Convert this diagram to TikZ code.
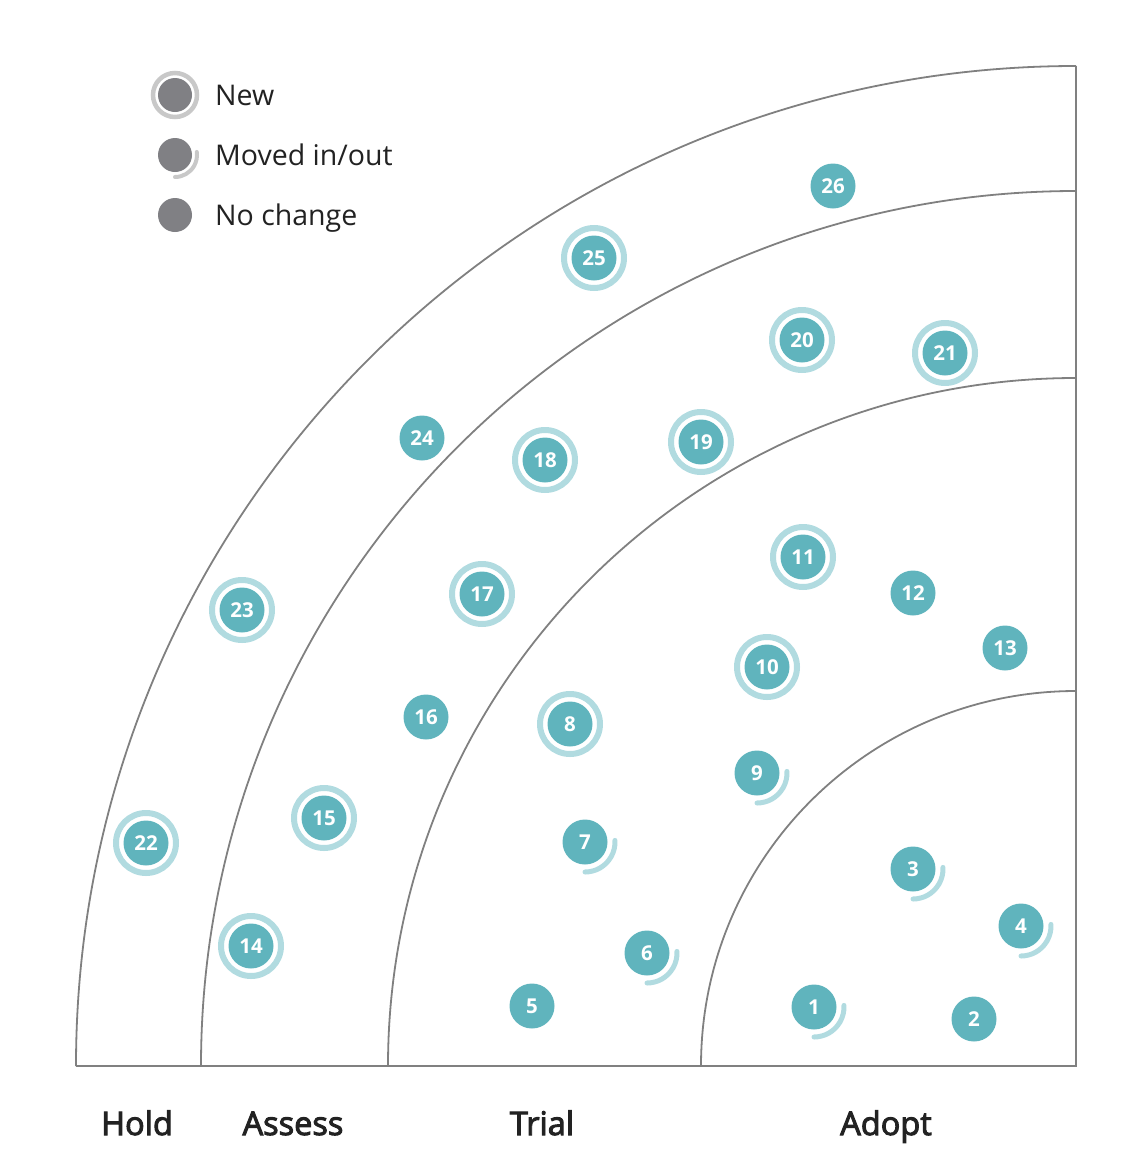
\documentclass[tikz,border=0pt]{standalone}
\usepackage{fontspec}
\setmainfont{Open Sans}
\newfontfamily\labfont[FakeBold=3]{Open Sans}
\definecolor{teal}{HTML}{60B4BD}
\definecolor{tealring}{HTML}{B1DBE0}
\definecolor{leggray}{HTML}{808084}
\definecolor{legring}{HTML}{C8C8C8}
\definecolor{linegray}{HTML}{808080}
\definecolor{txt}{HTML}{222222}
\tikzset{
  blip/.style={circle,fill=teal,draw=none,minimum size=45pt,inner sep=0pt,text=white,font=\bfseries\fontsize{20.5}{20.5}\selectfont},
  legdot/.style={circle,fill=leggray,draw=none,minimum size=34pt,inner sep=0pt},
  newring/.style={draw=tealring,line width=6pt},
  movedarc/.style={draw=tealring,line width=5pt,line cap=round},
  legnewring/.style={draw=legring,line width=4.5pt},
  legmoved/.style={draw=legring,line width=4pt,line cap=round},
  legtext/.style={anchor=base west,text=txt,inner sep=0pt,font=\fontsize{28.5}{28.5}\selectfont},
  ringlabel/.style={anchor=base,text=txt,inner sep=0pt,font=\labfont\fontsize{32.5}{32.5}\selectfont},
  frame/.style={draw=linegray,line width=1.8pt},
}
\begin{document}
\begin{tikzpicture}[x=1pt,y=-1pt]
\useasboundingbox (0,0) rectangle (1140,1170);
% frame and arcs
\coordinate (ctr) at (1076,1066);
\coordinate (top) at (1076,66);
\coordinate (left) at (76,1066);
\draw[frame] (top) -- (ctr) -- (left);
\draw[frame] (left) arc[start angle=180,end angle=90,radius=1000pt];
\draw[frame] (201,1066) arc[start angle=180,end angle=90,radius=875pt];
\draw[frame] (388,1066) arc[start angle=180,end angle=90,radius=688pt];
\draw[frame] (701,1066) arc[start angle=180,end angle=90,radius=375pt];
% ring labels
\node[ringlabel] (hold) at (137,1135) {Hold};
\node[ringlabel] (assess) at (293,1135) {Assess};
\node[ringlabel] (trial) at (542,1135) {Trial};
\node[ringlabel] (adopt) at (886,1135) {Adopt};
% legend
\node[legdot] (l1) at (175,95) {};
\node[legdot] (l2) at (175,155) {};
\node[legdot] (l3) at (175,215) {};
\draw[legnewring] (l1.center) circle[radius=22pt];
\draw[legmoved] ([yshift=-22pt]l2.center) arc[start angle=-90,end angle=8,radius=22pt];
\node[legtext] (t1) at (215,105) {New};
\node[legtext] (t2) at (215,165) {Moved in/out};
\node[legtext] (t3) at (215,225) {No change};
% blips
\foreach \n/\x/\y in {1/814/1007,2/974/1019,3/913/869,4/1021/926,5/532/1006,6/647/953,7/585/842,8/570/724,9/757/773,10/767/667,11/803/557,12/913/593,13/1005/648,14/251/946,15/324/818,16/426/717,17/482/594,18/545/460,19/701/442,20/802/340,21/945/353,22/146/843,23/242/610,24/422/438,25/594/258,26/833/186}
  \node[blip] (b\n) at (\x,\y) {\n};
% new rings
\foreach \n in {8,10,11,14,15,17,18,19,20,21,22,23,25}
  \draw[newring] (b\n.center) circle[radius=30pt];
% moved arcs
\foreach \n in {1,3,4,6,7,9}
  \draw[movedarc] ([yshift=-30pt]b\n.center) arc[start angle=-90,end angle=3,radius=30pt];
\end{tikzpicture}
\end{document}
